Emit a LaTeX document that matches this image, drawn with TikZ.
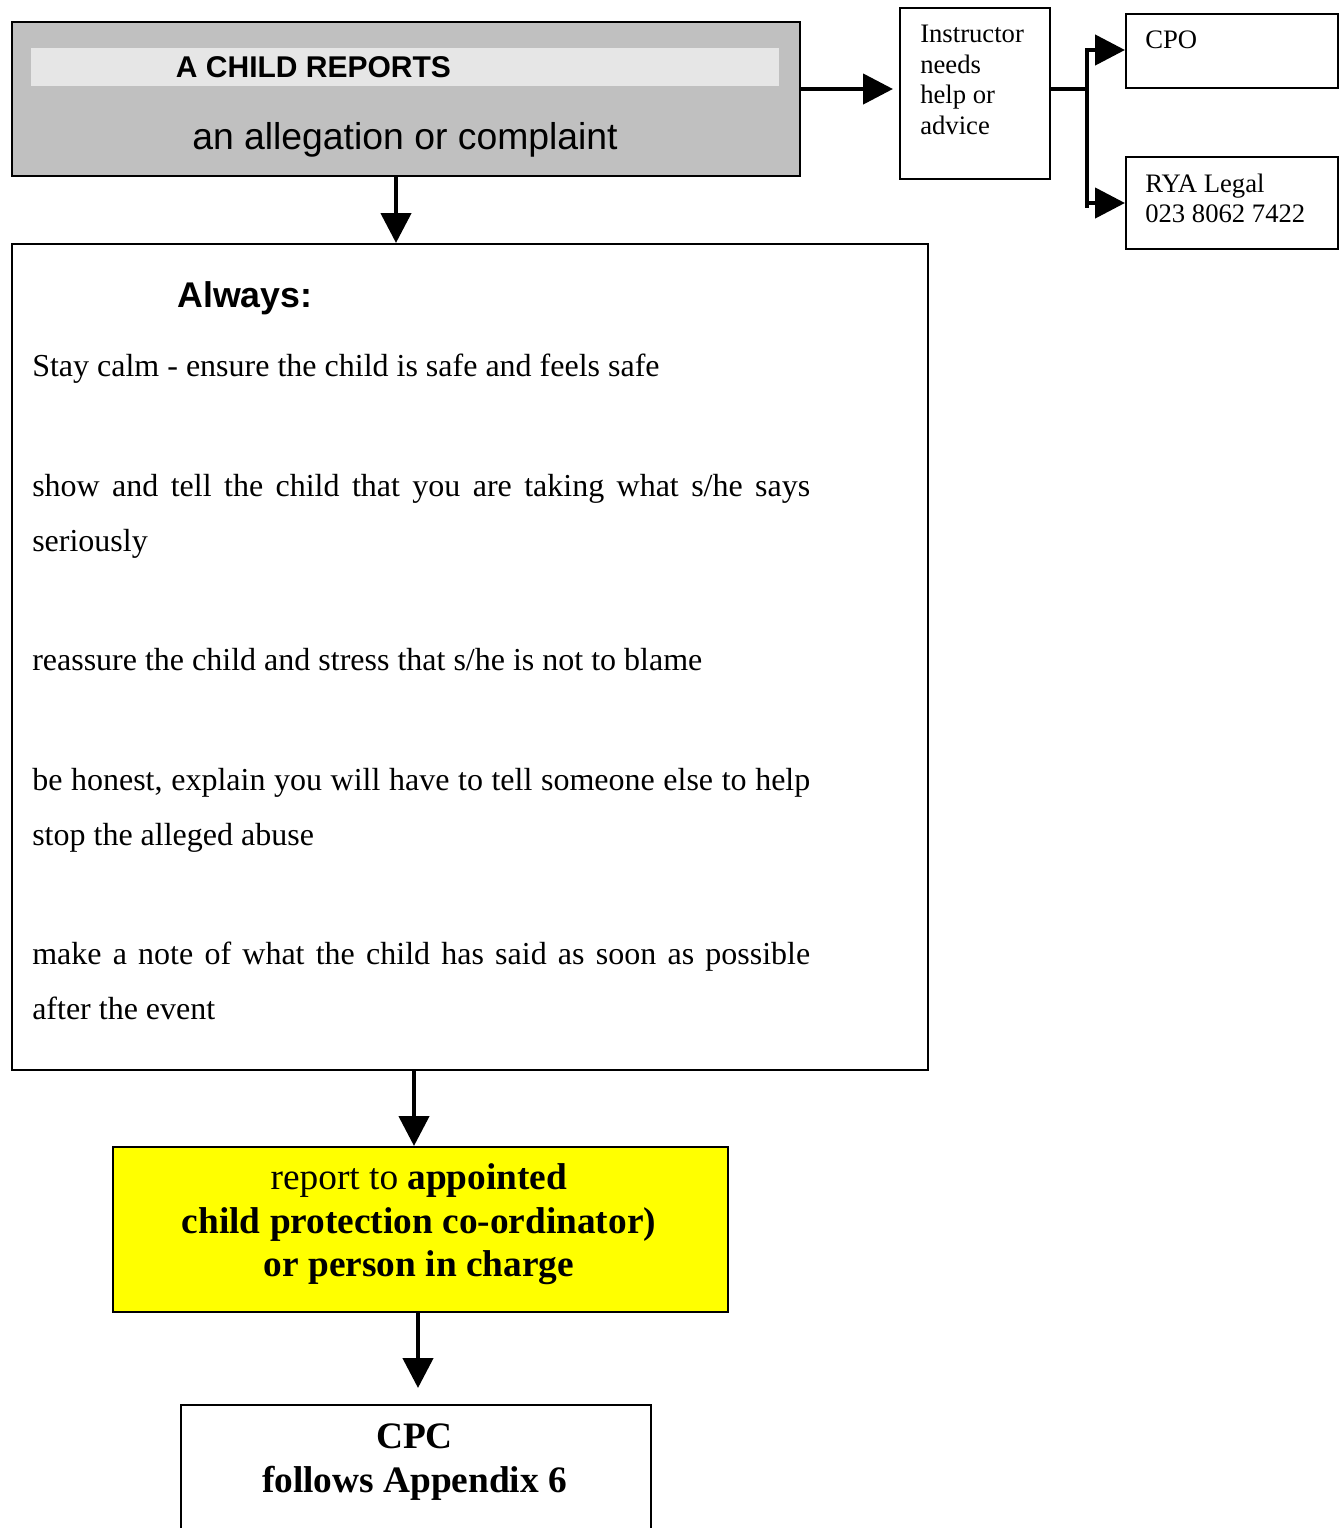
\documentclass[tikz,border=0pt]{standalone}
\usepackage{fontspec}
\setmainfont{Liberation Serif}
\newfontfamily\arialfont{Liberation Sans}
\usetikzlibrary{arrows.meta}
\definecolor{boxgray}{RGB}{192,192,192}
\definecolor{stripgray}{RGB}{230,230,230}
\definecolor{hiyellow}{RGB}{255,255,0}
\begin{document}
\begin{tikzpicture}[x=0.75pt,y=-0.75pt,
  boxst/.style={draw=black,line width=1.3pt,inner sep=0pt,anchor=north west},
  conn/.style={line width=3.4pt,-{Triangle[length=22.5pt,width=22.5pt]}},
  trunk/.style={line width=3.6pt},
  bodytxt/.style={inner sep=0pt,anchor=base west,font=\fontsize{24pt}{24pt}\selectfont},
  smalltxt/.style={inner sep=0pt,anchor=base west,font=\fontsize{20pt}{20pt}\selectfont},
  bigtxt/.style={inner sep=0pt,anchor=base,font=\fontsize{28pt}{28pt}\selectfont\bfseries}]
\useasboundingbox (0,0) rectangle (1343,1528);

% boxes
\node[boxst,fill=boxgray,minimum width=591pt,minimum height=115.5pt] (top) at (11,21) {};
\node[inner sep=0pt,anchor=north west,fill=stripgray,minimum width=561pt,minimum height=28.5pt] (strip) at (31,48) {};
\node[boxst,minimum width=112.5pt,minimum height=128.25pt] (instr) at (899,7) {};
\node[boxst,minimum width=159pt,minimum height=55.5pt] (cpo) at (1125,13) {};
\node[boxst,minimum width=159pt,minimum height=69pt] (rya) at (1125,156) {};
\node[boxst,minimum width=687pt,minimum height=619.5pt] (main) at (11,243) {};
\node[boxst,fill=hiyellow,minimum width=461.25pt,minimum height=123.75pt] (yel) at (112,1146) {};
\node[boxst,minimum width=352.5pt,minimum height=112.5pt] (cpc) at (180,1404) {};

% top box texts
\node[inner sep=0pt,anchor=base,font=\arialfont\bfseries\fontsize{22.5pt}{22.5pt}\selectfont] (t1) at (313.5,77) {A CHILD REPORTS};
\node[inner sep=0pt,anchor=base,font=\arialfont\fontsize{28pt}{28pt}\selectfont] (t2) at (405,149) {an allegation or complaint};

% instructor / side boxes
\node[smalltxt] (i1) at (920,42) {Instructor};
\node[smalltxt] (i2) at (920,73) {needs};
\node[smalltxt] (i3) at (920,103) {help or};
\node[smalltxt] (i4) at (920,134) {advice};
\node[smalltxt] (c1) at (1145,48) {CPO};
\node[smalltxt] (r1) at (1145,192) {RYA Legal};
\node[smalltxt] (r2) at (1145,222) {023 8062 7422};

% main box texts
\node[inner sep=0pt,anchor=base west,font=\arialfont\bfseries\fontsize{26.8pt}{26.8pt}\selectfont] (alw) at (177,307) {Always:};
\node[bodytxt] (b1) at (32,376) {Stay calm - ensure the child is safe and feels safe};
\node[bodytxt] (b2) at (32,496) {\hbox to 583.5pt{show and tell the child that you are taking what s/he says}};
\node[bodytxt] (b3) at (32,551) {seriously};
\node[bodytxt] (b4) at (32,670) {reassure the child and stress that s/he is not to blame};
\node[bodytxt] (b5) at (32,790) {\hbox to 583.5pt{be honest, explain you will have to tell someone else to help}};
\node[bodytxt] (b6) at (32,845) {stop the alleged abuse};
\node[bodytxt] (b7) at (32,964) {\hbox to 583.5pt{make a note of what the child has said as soon as possible}};
\node[bodytxt] (b8) at (32,1019) {after the event};

% yellow box texts
\node[bigtxt] (y1) at (419,1189) {\mdseries report to \bfseries appointed};
\node[bigtxt] (y2) at (419,1233) {child protection co-ordinator)};
\node[bigtxt] (y3) at (419,1276) {or person in charge};

% CPC texts
\node[bigtxt] (p1) at (414.5,1448) {CPC};
\node[bigtxt] (p2) at (414.5,1492) {follows Appendix 6};

% connectors
\coordinate (xa) at (396,0);
\coordinate (ya) at (0,89);
\coordinate (br) at (1087,89);
\coordinate (brt) at (1087,50);
\coordinate (brb) at (1087,203);
\coordinate (xb) at (414,0);
\coordinate (xc) at (418,0);

\draw[conn] (top.south -| xa) -- (main.north -| xa);
\draw[conn,shorten >=4.5pt] (top.east |- ya) -- (instr.west |- ya);
\draw[trunk] (instr.east |- br) -- (br);
\draw[trunk] ([yshift=1.5pt]brt) -- ([yshift=-4pt]brb);
\draw[conn] (brt) -- (cpo.west |- brt);
\draw[conn] (brb) -- (rya.west |- brb);
\draw[conn] (main.south -| xb) -- (yel.north -| xb);
\draw[conn,shorten >=12pt] (yel.south -| xc) -- (cpc.north -| xc);
\end{tikzpicture}
\end{document}
